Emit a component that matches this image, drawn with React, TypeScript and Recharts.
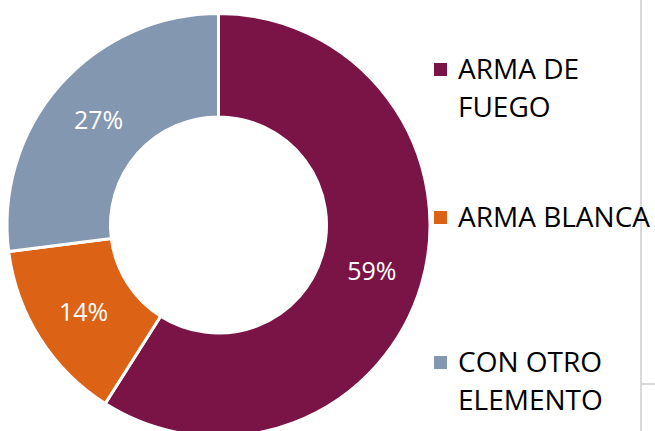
import { PieChart, Pie, Cell, Legend } from "recharts";

// Data
const categories = ["ARMA DE FUEGO", "ARMA BLANCA", "CON OTRO ELEMENTO"];
const shares = [59, 14, 27];
const COLORS = ["#7A1446", "#DC6216", "#8497B0"];

const data = categories.map((name, i) => ({ name, value: shares[i] }));

const FONT = "'Open Sans', 'Liberation Sans', sans-serif";
const RAD = Math.PI / 180;

const renderLabel = (props: any) => {
    const { cx, cy, midAngle, innerRadius, outerRadius, value } = props;
    const r = (innerRadius + outerRadius) / 2;
    const x = cx + r * Math.cos(-midAngle * RAD);
    const y = cy + r * Math.sin(-midAngle * RAD);
    return (
        <text x={x} y={y} fill="#ffffff" textAnchor="middle" dominantBaseline="central"
            fontSize={25} fontFamily={FONT}>
            {`${value}%`}
        </text>
    );
};

// gaps above each legend entry (Excel spreads them out)
const gaps = [49, 72, 107];

const renderLegend = () => (
    <div style={{ width: 221, fontFamily: FONT, fontSize: 28, lineHeight: "38px", color: "#000" }}>
        {data.map((d, i) => (
            <div key={d.name} style={{ display: "flex", alignItems: "flex-start", marginTop: gaps[i] }}>
                <span style={{ width: 13, height: 13, background: COLORS[i], marginTop: 14, marginRight: 11, flexShrink: 0 }} />
                <span style={{ width: 197, flexShrink: 0 }}>{d.name}</span>
            </div>
        ))}
    </div>
);

const App = () => {
    return (
        <div style={{ position: "absolute", left: 0, top: 0, width: 655, height: 431, background: "#fff", overflow: "hidden" }}>
            {/* spreadsheet cell borders */}
            <div style={{ position: "absolute", left: 640, top: 0, width: 2, height: 431, background: "#d9d9d9" }} />
            <div style={{ position: "absolute", left: 642, top: 383, width: 13, height: 2, background: "#d9d9d9" }} />
            <PieChart width={655} height={431} margin={{ top: 0, right: 0, bottom: 0, left: 0 }}>
                <Pie
                    data={data}
                    dataKey="value"
                    nameKey="name"
                    cx={218.5}
                    cy={225}
                    innerRadius={108}
                    outerRadius={211.5}
                    startAngle={90}
                    endAngle={-270}
                    stroke="#ffffff"
                    strokeWidth={3}
                    label={renderLabel}
                    labelLine={false}
                    isAnimationActive={false}
                >
                    {data.map((_, index) => (
                        <Cell key={`cell-${index}`} fill={COLORS[index]} />
                    ))}
                </Pie>
                <Legend
                    layout="vertical"
                    align="right"
                    verticalAlign="top"
                    content={renderLegend}
                    wrapperStyle={{ left: 434, top: 0, width: 221 }}
                />
            </PieChart>
        </div>
    );
};

export default App;
